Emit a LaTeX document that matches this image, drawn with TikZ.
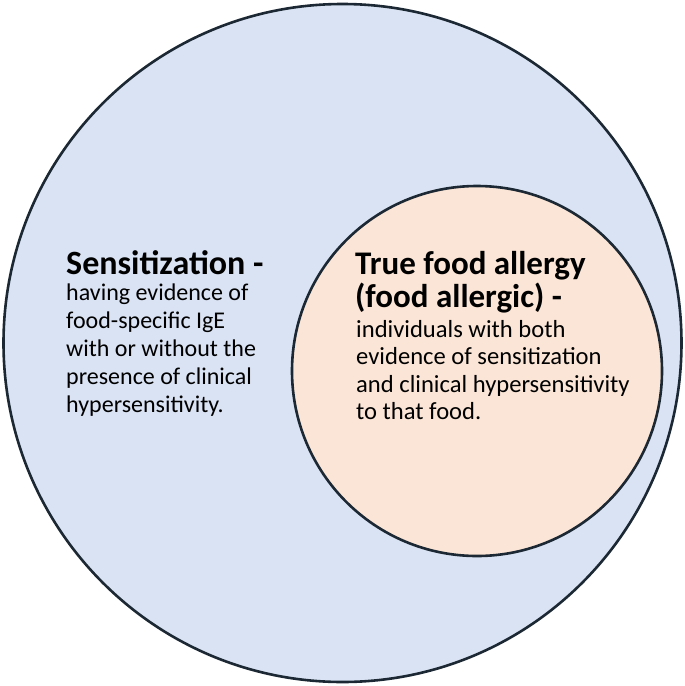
\documentclass[tikz,border=0pt]{standalone}
\usepackage{fontspec}
\setmainfont{Carlito}
\definecolor{outerfill}{HTML}{DAE3F3}
\definecolor{innerfill}{HTML}{FBE5D6}
\definecolor{edge}{HTML}{1C2833}
\begin{document}
\begin{tikzpicture}[x=1pt,y=-1pt,
  ring/.style={draw=edge,line width=2.6pt},
  ttl/.style={anchor=west,font=\fontsize{34}{26}\selectfont\bfseries,inner sep=0pt},
  body/.style={anchor=north west,align=left,font=\fontsize{24}{28}\selectfont,inner sep=0pt}]
\useasboundingbox (0,0) rectangle (685,686);
\node[ring,circle,fill=outerfill,minimum size=678pt,inner sep=0pt] (outer) at (342.5,343) {};
\node[ring,circle,fill=innerfill,minimum size=370pt,inner sep=0pt] (inner) at (477,371) {};
\node[ttl] (st) at (66,263) {Sensitization -};
\node[body] (sb) at (66,284) {having evidence of\\food-specific IgE\\with or without the\\presence of clinical\\hypersensitivity.};
\node[ttl,align=left,anchor=north west,font=\fontsize{33}{33}\selectfont\bfseries] (tt) at (355,251) {True food allergy\\(food allergic) -};
\node[body,font=\fontsize{24.6}{27.5}\selectfont] (tb) at (356,320) {individuals with both\\evidence of sensitization\\and clinical hypersensitivity\\to that food.};
\end{tikzpicture}
\end{document}
